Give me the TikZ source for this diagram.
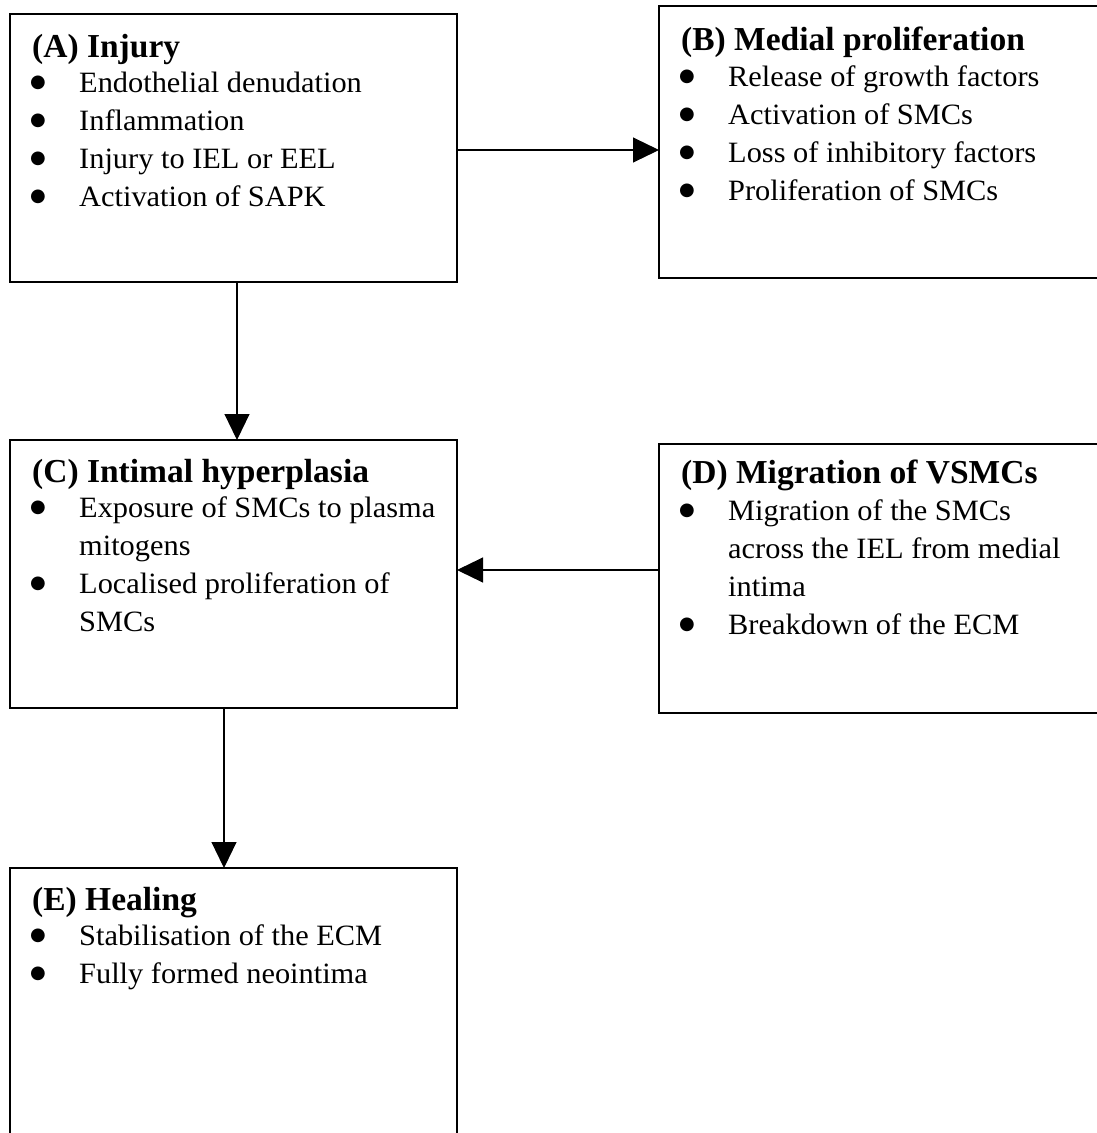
\documentclass[tikz,border=0pt]{standalone}
\usepackage{fontspec}
\setmainfont{Liberation Serif}
\newfontfamily\bodyfam{Liberation Serif}[FakeStretch=1.03]
\newfontfamily\ttlfam{Liberation Serif}[FakeStretch=1.0]
\newfontfamily\bulfam{DejaVu Sans}
\usetikzlibrary{arrows.meta}
\tikzset{
  stagebox/.style={draw=black, line width=2pt, inner sep=0pt, outer sep=0pt, anchor=north west, fill=none},
  ttl/.style={anchor=base west, inner sep=0pt, font={\ttlfam\bfseries\fontsize{33.5}{38}\selectfont}},
  itm/.style={anchor=base west, inner sep=0pt, font={\bodyfam\fontsize{29.5}{34}\selectfont}},
  bul/.style={anchor=base, inner sep=0pt, yshift=5pt, font={\bulfam\fontsize{18}{19}\selectfont}},
  conn/.style={draw=black, line width=1.1pt, -{Triangle[length=26pt, width=25pt]}}
}
\begin{document}
\begin{tikzpicture}[x=1pt,y=-1pt]
\clip (0,0) rectangle (1097,1133);
\fill[white] (0,0) rectangle (1097,1133);
% boxes
\node[stagebox, minimum width=447pt, minimum height=268pt] (A) at (10,14) {};
\node[stagebox, minimum width=460pt, minimum height=272pt] (B) at (659,6) {};
\node[stagebox, minimum width=447pt, minimum height=268pt] (C) at (10,440) {};
\node[stagebox, minimum width=460pt, minimum height=269pt] (D) at (659,444) {};
\node[stagebox, minimum width=447pt, minimum height=290pt] (E) at (10,868) {};
% helper coordinates
\coordinate (yAB) at (0,150);
\coordinate (yDC) at (0,570);
\coordinate (xAC) at (237,0);
\coordinate (xCE) at (224,0);
% connectors
\draw[conn] (A.east |- yAB) -- (B.west |- yAB);
\draw[conn] (A.south -| xAC) -- (C.north -| xAC);
\draw[conn] (D.west |- yDC) -- (C.east |- yDC);
\draw[conn] (C.south -| xCE) -- (E.north -| xCE);
% A text
\node[ttl] (At) at (32,57) {(A) Injury};
\node[bul] (Ab1) at (38,92) {●};
\node[itm] (Ai1) at (79,92) {Endothelial denudation};
\node[bul] (Ab2) at (38,130) {●};
\node[itm] (Ai2) at (79,130) {Inflammation};
\node[bul] (Ab3) at (38,168) {●};
\node[itm] (Ai3) at (79,168) {Injury to IEL or EEL};
\node[bul] (Ab4) at (38,206) {●};
\node[itm] (Ai4) at (79,206) {Activation of SAPK};
% B text
\node[ttl] (Bt) at (681,50) {(B) Medial proliferation};
\node[bul] (Bb1) at (687,86) {●};
\node[itm] (Bi1) at (728,86) {Release of growth factors};
\node[bul] (Bb2) at (687,124) {●};
\node[itm] (Bi2) at (728,124) {Activation of SMCs};
\node[bul] (Bb3) at (687,162) {●};
\node[itm] (Bi3) at (728,162) {Loss of inhibitory factors};
\node[bul] (Bb4) at (687,200) {●};
\node[itm] (Bi4) at (728,200) {Proliferation of SMCs};
% C text
\node[ttl] (Ct) at (32,482) {(C) Intimal hyperplasia};
\node[bul] (Cb1) at (38,517) {●};
\node[itm] (Ci1) at (79,517) {Exposure of SMCs to plasma};
\node[itm] (Ci1b) at (79,555) {mitogens};
\node[bul] (Cb2) at (38,593) {●};
\node[itm] (Ci2) at (79,593) {Localised proliferation of};
\node[itm] (Ci2b) at (79,631) {SMCs};
% D text
\node[ttl] (Dt) at (681,483) {(D) Migration of VSMCs};
\node[bul] (Db1) at (687,520) {●};
\node[itm] (Di1) at (728,520) {Migration of the SMCs};
\node[itm] (Di1b) at (728,558) {across the IEL from medial};
\node[itm] (Di1c) at (728,596) {intima};
\node[bul] (Db2) at (687,634) {●};
\node[itm] (Di2) at (728,634) {Breakdown of the ECM};
% E text
\node[ttl] (Et) at (32,910) {(E) Healing};
\node[bul] (Eb1) at (38,945) {●};
\node[itm] (Ei1) at (79,945) {Stabilisation of the ECM};
\node[bul] (Eb2) at (38,983) {●};
\node[itm] (Ei2) at (79,983) {Fully formed neointima};
\end{tikzpicture}
\end{document}
